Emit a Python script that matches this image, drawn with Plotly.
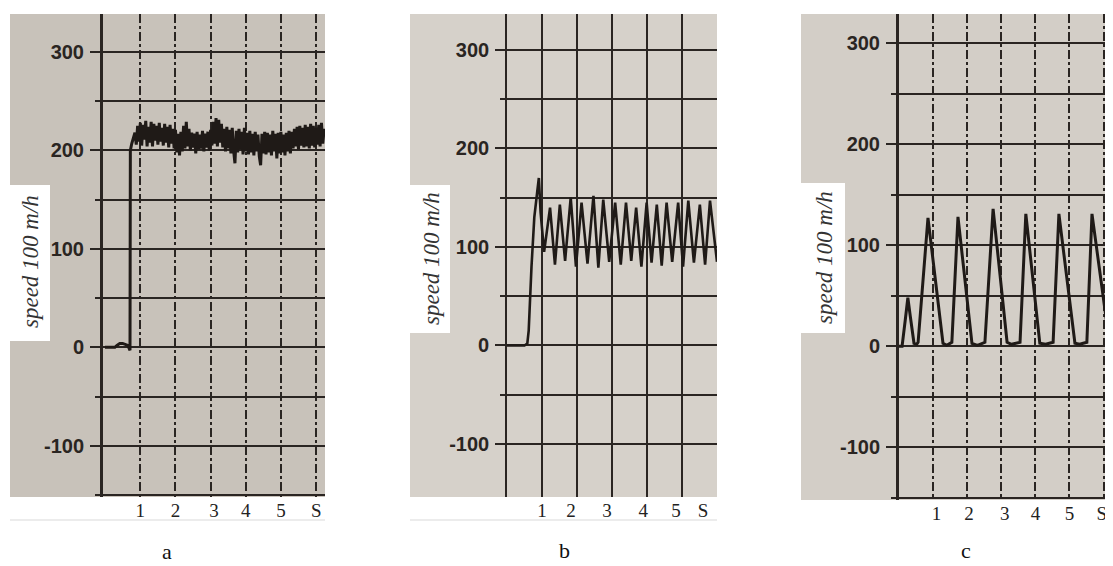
import plotly.graph_objects as go

# ---------------- data ----------------
# common tick labels
y_label_vals = [-100, 0, 100, 200, 300]
x_tick_text = ["1", "2", "3", "4", "5", "S"]

# panel a : step start, then noisy band around ~212
a_start_t = [0.0, 0.28, 0.34, 0.42, 0.50, 0.57, 0.65, 0.71, 0.72, 0.76, 0.80, 0.85]
a_start_v = [0, 0, 2, 4, 4, 3, 2, -3, 200, 207, 212, 216]
a_band_t0 = 0.85
a_band_dt = 0.0384
a_band_v = [
    218, 206, 225, 209, 228, 205, 226, 211, 230, 204, 224, 208, 229, 204, 227, 210,
    225, 206, 228, 209, 223, 205, 227, 208, 224, 203, 226, 207, 222, 202, 221, 198,
    217, 195, 219, 199,
    225, 202, 229, 204, 222,
    200, 218, 203, 217, 197, 219, 201, 216, 202, 220, 199, 217, 203, 219, 200, 221,
    205, 229, 207, 233, 204, 231, 208, 227, 203,
    222, 199, 224, 202, 221, 197, 223, 200, 187, 220, 198, 222, 201, 219, 196, 223, 199,
    218, 196, 220, 198, 217, 195, 219, 199, 216, 194, 185, 217, 197, 219, 196, 218, 198,
    216, 195, 220, 199, 217, 192, 218, 197, 219, 198, 216, 195, 218, 199, 220, 197, 219,
    202, 222, 204, 224, 201, 225, 205, 223, 203, 226, 204, 224, 202, 227, 205, 225, 203,
    223, 206, 226, 204, 228, 207, 222,
]

# panel b : ramp, overshoot, then oscillation ~80..150
b_t = [0.0, 0.50, 0.58, 0.62, 0.70, 0.78, 0.86, 0.91, 0.96, 1.06,
       1.23, 1.37, 1.51, 1.66, 1.82, 1.97, 2.13, 2.30, 2.47, 2.61, 2.75, 2.92,
       3.09, 3.25, 3.40, 3.55, 3.69, 3.84, 3.99, 4.13, 4.28, 4.42, 4.56, 4.72,
       4.89, 5.03, 5.18, 5.34, 5.51, 5.66, 5.80, 6.00]
b_v = [0, 0, 2, 15, 80, 130, 155, 170, 135, 95,
       140, 82, 143, 86, 150, 80, 145, 83, 152, 79, 148, 85,
       145, 82, 145, 86, 140, 80, 145, 84, 143, 81, 145, 85,
       145, 80, 147, 84, 143, 82, 147, 85]

# panel c : small first pulse, then six triangular pulses ~130
c_t = [0.0, 0.09, 0.18, 0.26, 0.33, 0.44, 0.52, 0.56,
       0.85, 1.29, 1.40, 1.55,
       1.73, 2.14, 2.30, 2.52,
       2.76, 3.17, 3.30, 3.55,
       3.72, 4.13, 4.30, 4.52,
       4.69, 5.16, 5.30, 5.51,
       5.66, 6.13]
c_v = [0, 0, 25, 48, 30, 3, 2, 4,
       127, 3, 1, 4,
       128, 3, 1, 4,
       136, 4, 2, 4,
       131, 3, 2, 4,
       131, 3, 2, 4,
       131, 14]

# x-label positions for each panel
a_label_pos = [1, 2, 3.1, 4, 5, 6]
b_label_pos = [1, 1.83, 2.86, 3.89, 4.83, 5.6]
c_label_pos = [1.1, 2.05, 3.1, 4.0, 5.0, 5.95]

panel_names = ["a", "b", "c"]

# ---------------- styling ----------------
OFF = 8                      # page body margin of the html page
FW, FH = 1113 - OFF, 566 - OFF
ink = "#2a2522"
trace_ink = "#1f1a17"
num_font = dict(family="Liberation Sans, Arial, sans-serif",
                size=20, color="#2a2522", weight="bold")
serif = "Liberation Serif, Times New Roman, serif"


def px_x(p):
    return (p - OFF) / FW


def px_y(p):
    return 1 - (p - OFF) / FH


a_band_t = [a_band_t0 + i * a_band_dt for i in range(len(a_band_v))]
a_t = a_start_t + a_band_t
a_v = a_start_v + a_band_v

fig = go.Figure()
fig.add_trace(go.Scatter(x=a_t, y=a_v, mode="lines", xaxis="x", yaxis="y",
                         line=dict(color=trace_ink, width=3), hoverinfo="skip"))
fig.add_trace(go.Scatter(x=b_t, y=b_v, mode="lines", xaxis="x2", yaxis="y2",
                         line=dict(color=trace_ink, width=2.6), hoverinfo="skip"))
fig.add_trace(go.Scatter(x=c_t, y=c_v, mode="lines", xaxis="x3", yaxis="y3",
                         line=dict(color=trace_ink, width=3), hoverinfo="skip"))


def yax(anchor, dom_px, rng, line_w, grid_w, minor_vals):
    return dict(
        anchor=anchor, domain=[px_y(dom_px[1]), px_y(dom_px[0])], range=rng,
        tickmode="array", tickvals=y_label_vals, ticktext=[str(v) for v in y_label_vals],
        ticks="outside", ticklen=10, tickwidth=2, tickcolor=ink, ticklabelstandoff=2,
        showgrid=True, gridcolor=ink, gridwidth=grid_w,
        showline=True, linecolor=ink, linewidth=line_w, zeroline=False,
        tickfont=num_font, fixedrange=True,
        minor=dict(tickmode="array", tickvals=minor_vals, showgrid=True, gridcolor=ink,
                   gridwidth=grid_w, ticks="outside", ticklen=5, tickwidth=2, tickcolor=ink),
    )


def xax(anchor, dom_px, rng, label_pos, grid_vals, grid_w, dash):
    return dict(
        anchor=anchor, domain=[px_x(dom_px[0]), px_x(dom_px[1])], range=rng,
        tickmode="array", tickvals=label_pos, ticktext=x_tick_text, ticks="",
        showgrid=False, showline=False, zeroline=False, fixedrange=True,
        tickfont=dict(family=serif, size=19, color="#222222"),
        minor=dict(tickmode="array", tickvals=grid_vals, showgrid=True, gridcolor=ink,
                   gridwidth=grid_w, griddash=dash),
    )


layout = dict(
    width=FW, height=FH, margin=dict(l=0, r=0, t=0, b=0),
    paper_bgcolor="white", plot_bgcolor="rgba(0,0,0,0)", showlegend=False,
    xaxis=xax("y", (103, 325), [-0.057, 6.25], a_label_pos, [1, 2, 3, 4, 5, 6], 2, "dashdot"),
    yaxis=yax("x", (14, 497), [-152.0, 338.6], 3, 2, [-150, -50, 50, 150, 250]),
    xaxis2=xax("y2", (507, 717), [0, 6.0], b_label_pos, [1, 2, 3, 4, 5], 1.6, "solid"),
    yaxis2=yax("x2", (14, 497), [-153.8, 336.5], 1.6, 1.6, [-50, 50, 150, 250]),
    xaxis3=xax("y3", (899, 1108), [0, 6.13], c_label_pos, [1, 2, 3, 4, 5, 6], 2, "dashdot"),
    yaxis3=yax("x3", (14, 500), [-152.0, 328.7], 3, 2, [-150, -50, 50, 150, 250]),
)
fig.update_layout(**layout)

# paper backgrounds, label boxes, and light rules below the labels
papers = [((10, 325), (14, 497), "#c8c2ba"),
          ((410, 717), (14, 497), "#d6d1ca"),
          ((801, 1110), (14, 500), "#d3cec7")]
boxes = [((10, 50), (185, 341)), ((410, 450), (185, 333)), ((801, 845), (183, 333))]
label_centres = [(31, 262), (431, 258), (824, 258)]
panel_label_pos = [(167, 551), (564, 550), (966, 550)]

for (xs, ys, col) in papers:
    fig.add_shape(type="rect", xref="paper", yref="paper", layer="below",
                  x0=px_x(xs[0]), x1=px_x(xs[1]), y0=px_y(ys[1]), y1=px_y(ys[0]),
                  fillcolor=col, line=dict(width=0))
for (xs, ys) in boxes:
    fig.add_shape(type="rect", xref="paper", yref="paper", layer="below",
                  x0=px_x(xs[0]), x1=px_x(xs[1]), y0=px_y(ys[1]), y1=px_y(ys[0]),
                  fillcolor="white", line=dict(width=0))
for xs in [(10, 325), (410, 717)]:
    fig.add_shape(type="line", xref="paper", yref="paper", layer="below",
                  x0=px_x(xs[0]), x1=px_x(xs[1]), y0=px_y(520), y1=px_y(520),
                  line=dict(color="#d9d9d9", width=1))

for (cx, cy) in label_centres:
    fig.add_annotation(xref="paper", yref="paper", x=px_x(cx), y=px_y(cy),
                       text="<i>speed 100 m/h</i>", textangle=-90, showarrow=False,
                       font=dict(family=serif, size=23, color="#333333"),
                       xanchor="center", yanchor="middle")

for name, (cx, cy) in zip(panel_names, panel_label_pos):
    fig.add_annotation(xref="paper", yref="paper", x=px_x(cx), y=px_y(cy),
                       text=name, showarrow=False,
                       font=dict(family=serif, size=22, color="#111111"),
                       xanchor="center", yanchor="middle")

fig.write_html("out.html")
